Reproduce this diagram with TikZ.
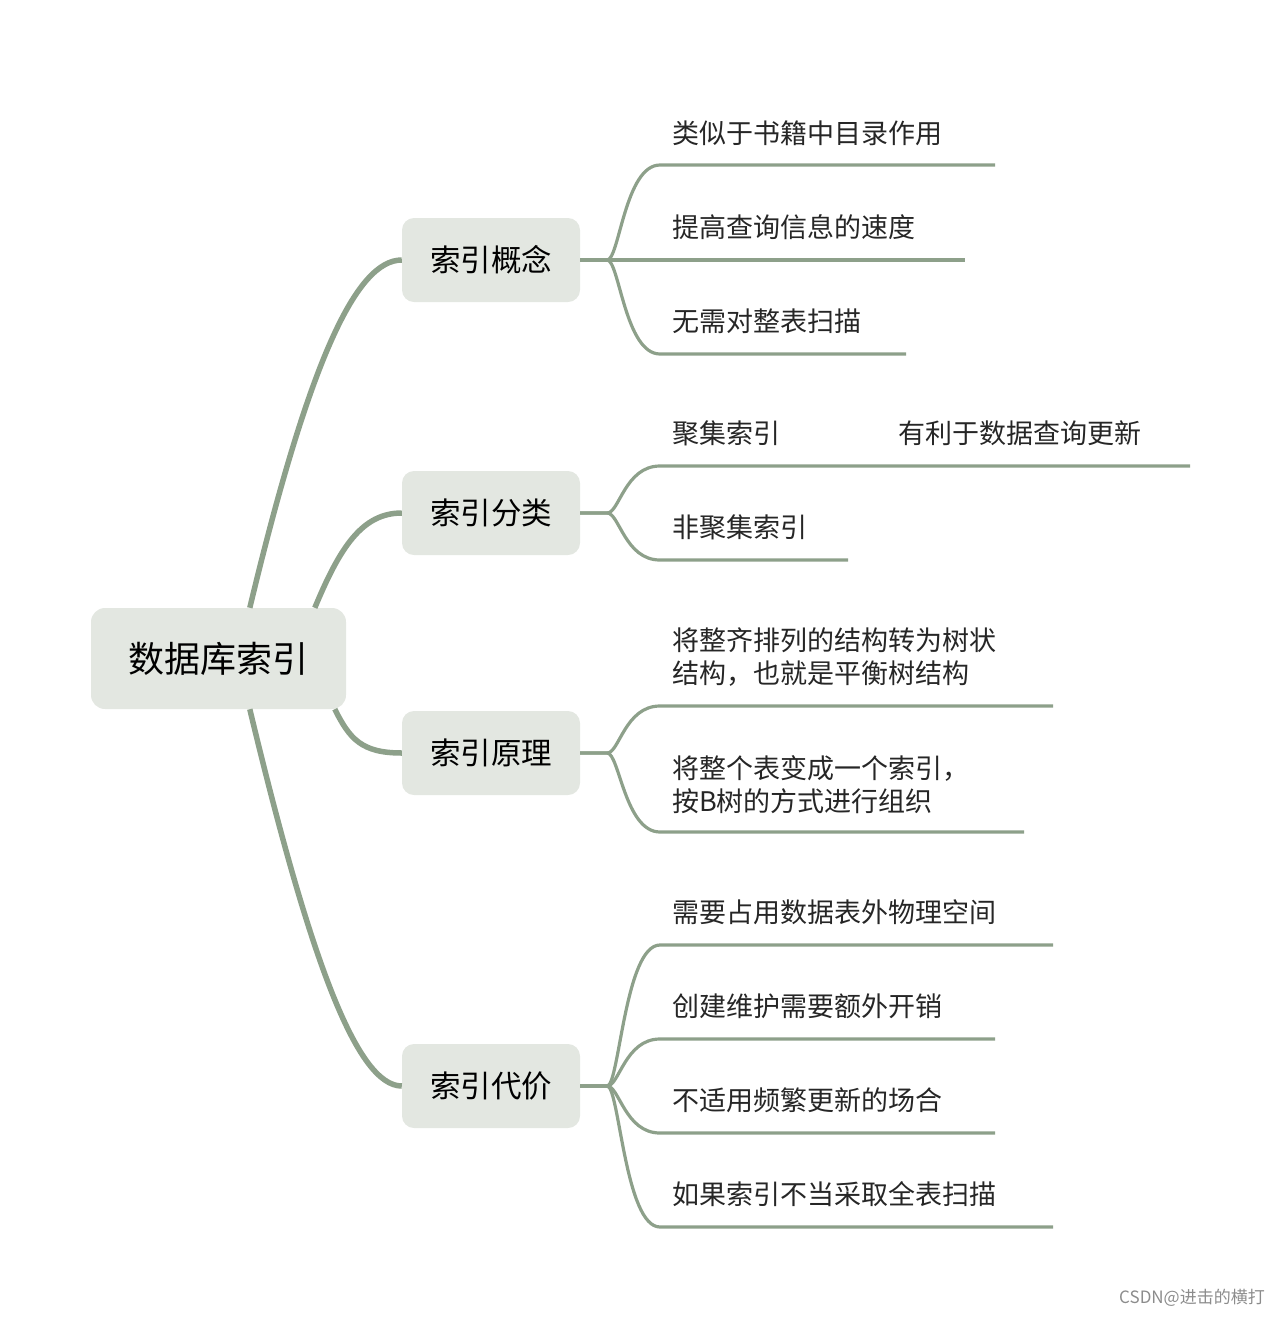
\documentclass[tikz,border=0pt]{standalone}
\usepackage{fontspec}
\setmainfont{Noto Sans CJK SC}
\definecolor{boxc}{HTML}{E3E7E1}
\definecolor{linec}{HTML}{8DA08A}
\begin{document}
\begin{tikzpicture}[x=1pt,y=-1pt,
  rootbox/.style={fill=boxc,rounded corners=14pt,minimum width=255pt,minimum height=101pt,font=\fontsize{36}{40}\selectfont,inner sep=0pt},
  brbox/.style={fill=boxc,rounded corners=12pt,minimum width=178pt,minimum height=84pt,font=\fontsize{30.5}{34}\selectfont,inner sep=0pt},
  leaf/.style={anchor=west,font=\fontsize{27}{33}\selectfont,align=left,inner sep=0pt,text=black!85},
  thick1/.style={draw=linec,line width=5.5pt},
  thin1/.style={draw=linec,line width=3.2pt}]
\useasboundingbox (0,0) rectangle (1280,1318);
\node[rootbox] (root) at (218.5,658.5) {数据库索引};
\node[brbox] (b1) at (491,260) {索引概念};
\node[brbox] (b2) at (491,513) {索引分类};
\node[brbox] (b3) at (491,753) {索引原理};
\node[brbox] (b4) at (491,1086) {索引代价};
% root connectors
\draw[thick1] ([xshift=159pt]root.north west) .. controls +(60,-250) and +(-45,0) .. (b1.west);
\draw[thick1] ([xshift=224pt]root.north west) .. controls +(25,-60) and +(-40,0) .. (b2.west);
\draw[thick1] ([xshift=244pt]root.south west) .. controls +(15,30) and +(-40,0) .. (b3.west);
\draw[thick1] ([xshift=159pt]root.south west) .. controls +(60,250) and +(-45,0) .. (b4.west);
% leaf lines
\foreach \b/\y/\e [count=\i] in {b1/165/995,b1/260/965,b1/354/906,b2/466/1190,b2/560/848,b3/706/1053,b3/832/1024,b4/945/1053,b4/1039/995,b4/1133/995,b4/1227/1053}{
  \coordinate (s\i) at (660,\y);
  \coordinate (e\i) at (\e,\y);
  \draw[thin1] (\b.east) -- ++(27,0) .. controls +(12,0) and +(-35,0) .. (s\i) -- (e\i);
}
\node[leaf] (t1) at (672,133) {类似于书籍中目录作用};
\node[leaf] (t2) at (672,227) {提高查询信息的速度};
\node[leaf] (t3) at (672,321) {无需对整表扫描};
\node[leaf] (t4) at (672,433) {聚集索引};
\node[leaf] (t4b) at (898,433) {有利于数据查询更新};
\node[leaf] (t5) at (672,527) {非聚集索引};
\node[leaf] (t6) at (672,657) {将整齐排列的结构转为树状\\结构，也就是平衡树结构};
\node[leaf] (t7) at (672,785) {将整个表变成一个索引，\\按B树的方式进行组织};
\node[leaf] (t8) at (672,912) {需要占用数据表外物理空间};
\node[leaf] (t9) at (672,1006) {创建维护需要额外开销};
\node[leaf] (t10) at (672,1100) {不适用频繁更新的场合};
\node[leaf] (t11) at (672,1194) {如果索引不当采取全表扫描};
\node[anchor=east,font=\fontsize{17}{20}\selectfont,text=black!45,inner sep=0pt] (wm) at (1265,1298) {CSDN@进击的横打};
\end{tikzpicture}
\end{document}
